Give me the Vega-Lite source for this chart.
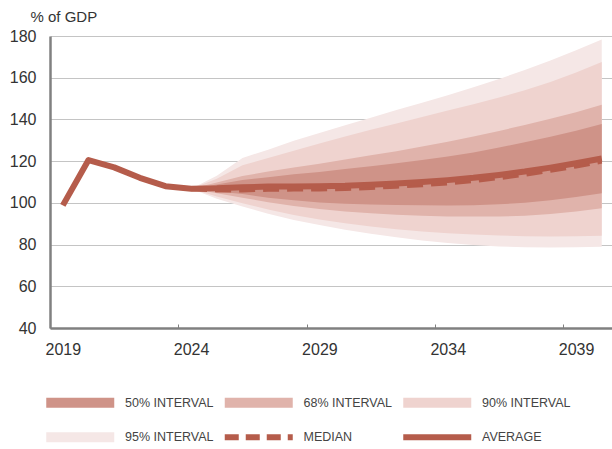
{
  "$schema": "https://vega.github.io/schema/vega-lite/v6.json",
  "width": 562,
  "height": 292,
  "autosize": {"type": "none"},
  "padding": {"left": 50, "top": 36, "right": 0, "bottom": 121},
  "background": "white",
  "config": {
    "view": {"stroke": null},
    "font": "Liberation Sans",
    "axis": {
      "labelFont": "Liberation Sans",
      "labelColor": "#333333",
      "labelFontSize": 16,
      "domainColor": "#808080",
      "domainWidth": 2.5,
      "gridColor": "#c4c4c4",
      "gridWidth": 1
    }
  },
  "data": {
    "values": [
      {"year": 2019, "avg": 98.8},
      {"year": 2020, "avg": 120.5},
      {"year": 2021, "avg": 117.0},
      {"year": 2022, "avg": 112.0},
      {"year": 2023, "avg": 108.0},
      {"year": 2024, "avg": 106.8, "med": 106.8, "p50l": 106.8, "p50u": 106.8, "p68l": 106.8, "p68u": 106.8, "p90l": 106.8, "p90u": 106.8, "p95l": 106.8, "p95u": 106.8},
      {"year": 2025, "avg": 107.0, "med": 106.2, "p50l": 105.5, "p50u": 108.8, "p68l": 104.6, "p68u": 109.8, "p90l": 103.0, "p90u": 111.5, "p95l": 102.0, "p95u": 113.0},
      {"year": 2026, "avg": 107.5, "med": 106.2, "p50l": 104.2, "p50u": 111.0, "p68l": 102.5, "p68u": 112.9, "p90l": 99.8, "p90u": 118.0, "p95l": 98.2, "p95u": 121.5},
      {"year": 2027, "avg": 107.8, "med": 106.5, "p50l": 102.5, "p50u": 112.3, "p68l": 100.3, "p68u": 115.0, "p90l": 96.8, "p90u": 121.5, "p95l": 94.8, "p95u": 125.5},
      {"year": 2028, "avg": 107.9, "med": 106.6, "p50l": 101.2, "p50u": 113.7, "p68l": 98.5, "p68u": 117.0, "p90l": 94.2, "p90u": 125.0, "p95l": 91.8, "p95u": 129.8},
      {"year": 2029, "avg": 108.0, "med": 106.7, "p50l": 100.2, "p50u": 114.8, "p68l": 97.0, "p68u": 118.8, "p90l": 92.0, "p90u": 128.5, "p95l": 89.4, "p95u": 133.5},
      {"year": 2030, "avg": 108.2, "med": 106.9, "p50l": 99.6, "p50u": 116.2, "p68l": 95.8, "p68u": 120.8, "p90l": 90.2, "p90u": 131.8, "p95l": 87.1, "p95u": 137.2},
      {"year": 2031, "avg": 108.7, "med": 107.4, "p50l": 99.2, "p50u": 117.5, "p68l": 95.0, "p68u": 122.8, "p90l": 88.7, "p90u": 135.0, "p95l": 85.2, "p95u": 140.8},
      {"year": 2032, "avg": 109.3, "med": 108.0, "p50l": 99.0, "p50u": 119.0, "p68l": 94.3, "p68u": 124.8, "p90l": 87.4, "p90u": 138.0, "p95l": 83.5, "p95u": 144.5},
      {"year": 2033, "avg": 110.0, "med": 108.7, "p50l": 98.8, "p50u": 120.5, "p68l": 93.8, "p68u": 127.0, "p90l": 86.3, "p90u": 141.2, "p95l": 82.0, "p95u": 148.0},
      {"year": 2034, "avg": 110.9, "med": 109.6, "p50l": 98.7, "p50u": 122.2, "p68l": 93.5, "p68u": 129.3, "p90l": 85.4, "p90u": 144.3, "p95l": 80.8, "p95u": 151.6},
      {"year": 2035, "avg": 112.0, "med": 110.7, "p50l": 98.8, "p50u": 124.2, "p68l": 93.4, "p68u": 131.8, "p90l": 84.8, "p90u": 147.3, "p95l": 79.8, "p95u": 155.4},
      {"year": 2036, "avg": 113.4, "med": 112.1, "p50l": 99.3, "p50u": 126.5, "p68l": 93.4, "p68u": 134.5, "p90l": 84.3, "p90u": 150.5, "p95l": 79.1, "p95u": 159.4},
      {"year": 2037, "avg": 115.0, "med": 113.7, "p50l": 100.0, "p50u": 129.0, "p68l": 93.8, "p68u": 137.3, "p90l": 84.0, "p90u": 154.0, "p95l": 78.7, "p95u": 163.7},
      {"year": 2038, "avg": 116.9, "med": 115.6, "p50l": 101.2, "p50u": 131.7, "p68l": 94.6, "p68u": 140.3, "p90l": 83.9, "p90u": 158.0, "p95l": 78.6, "p95u": 168.3},
      {"year": 2039, "avg": 119.0, "med": 117.7, "p50l": 102.8, "p50u": 134.6, "p68l": 95.8, "p68u": 143.5, "p90l": 84.0, "p90u": 162.5, "p95l": 78.7, "p95u": 173.2},
      {"year": 2040, "avg": 121.3, "med": 120.0, "p50l": 104.6, "p50u": 137.8, "p68l": 97.4, "p68u": 147.0, "p90l": 84.2, "p90u": 167.5, "p95l": 79.0, "p95u": 178.3}
    ]
  },
  "encoding": {
    "x": {
      "field": "year",
      "type": "quantitative",
      "scale": {"domain": [2018.5, 2040.4], "nice": false, "zero": false},
      "axis": {
        "title": null,
        "grid": false,
        "values": [2018.5, 2023.5, 2028.5, 2033.5, 2038.5],
        "labelExpr": "format(datum.value + 0.5, 'd')",
        "labelOffset": 12.8,
        "labelPadding": 17,
        "labelFlush": false,
        "labelOverlap": false,
        "tickSize": -4,
        "tickColor": "#808080",
        "tickWidth": 1
      }
    }
  },
  "layer": [
    {
      "mark": {"type": "area", "opacity": 1},
      "encoding": {
        "y": {
          "field": "p95l",
          "type": "quantitative",
          "scale": {"domain": [40, 180], "nice": false, "zero": false},
          "axis": {
            "values": [40, 60, 80, 100, 120, 140, 160, 180],
            "ticks": false,
            "labelPadding": 14,
            "title": "% of GDP",
            "titleAngle": 0,
            "titleX": -20,
            "titleY": -15,
            "titleAlign": "left",
            "titleBaseline": "alphabetic",
            "titleFont": "Liberation Sans",
            "titleFontSize": 15,
            "titleFontWeight": "normal",
            "titleColor": "#333333"
          }
        },
        "y2": {"field": "p95u"},
        "color": {
          "datum": "95% INTERVAL",
          "type": "nominal",
          "scale": {
            "domain": ["50% INTERVAL", "68% INTERVAL", "90% INTERVAL", "95% INTERVAL", "MEDIAN", "AVERAGE"],
            "range": ["#cf9388", "#e0b3ab", "#efd3cf", "#f5e7e6", "#b55c4b", "#b55c4b"]
          },
          "legend": {
            "title": null,
            "orient": "none",
            "legendX": -3,
            "legendY": 360,
            "direction": "horizontal",
            "columns": 3,
            "padding": 0,
            "symbolType": "stroke",
            "symbolSize": 4624,
            "symbolStrokeWidth": 0,
            "symbolOffset": 27,
            "symbolOpacity": 1,
            "labelFont": "Liberation Sans",
            "labelFontSize": 12.5,
            "labelColor": "#444444",
            "labelOffset": 38.5,
            "columnPadding": -9.5,
            "rowPadding": -6,
            "encode": {
              "symbols": {
                "update": {
                  "stroke": {"scale": "color", "field": "value"},
                  "strokeWidth": {"signal": "datum.value === 'AVERAGE' ? 6 : (datum.value === 'MEDIAN' ? 6 : 10)"},
                  "strokeDash": {"signal": "datum.value === 'MEDIAN' ? [14, 7] : [1, 0]"},
                  "fill": {"value": "transparent"},
                  "opacity": {"value": 1}
                }
              }
            }
          }
        }
      }
    },
    {
      "mark": {"type": "area", "opacity": 1},
      "encoding": {
        "y": {"field": "p90l", "type": "quantitative"},
        "y2": {"field": "p90u"},
        "color": {"datum": "90% INTERVAL", "type": "nominal"}
      }
    },
    {
      "mark": {"type": "area", "opacity": 1},
      "encoding": {
        "y": {"field": "p68l", "type": "quantitative"},
        "y2": {"field": "p68u"},
        "color": {"datum": "68% INTERVAL", "type": "nominal"}
      }
    },
    {
      "mark": {"type": "area", "opacity": 1},
      "encoding": {
        "y": {"field": "p50l", "type": "quantitative"},
        "y2": {"field": "p50u"},
        "color": {"datum": "50% INTERVAL", "type": "nominal"}
      }
    },
    {
      "mark": {"type": "line", "strokeWidth": 5, "strokeDash": [16, 8], "strokeCap": "butt"},
      "encoding": {
        "y": {"field": "med", "type": "quantitative"},
        "color": {"datum": "MEDIAN", "type": "nominal"}
      }
    },
    {
      "mark": {"type": "line", "strokeWidth": 6, "strokeCap": "butt", "strokeJoin": "round"},
      "encoding": {
        "y": {"field": "avg", "type": "quantitative"},
        "color": {"datum": "AVERAGE", "type": "nominal"}
      }
    }
  ]
}
